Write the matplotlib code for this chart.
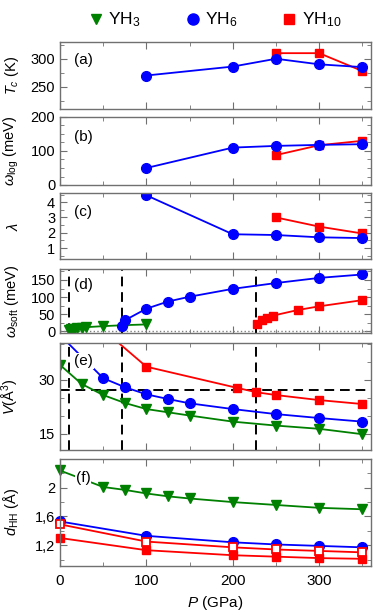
import numpy as np
import matplotlib
matplotlib.use("Agg")
import matplotlib.pyplot as plt
from matplotlib.lines import Line2D
from matplotlib.ticker import MultipleLocator, FixedLocator

plt.rcParams['font.family'] = ['Liberation Sans', 'DejaVu Sans']
plt.rcParams['mathtext.fontset'] = 'custom'
plt.rcParams['mathtext.rm'] = 'Liberation Sans'
plt.rcParams['mathtext.it'] = 'Liberation Sans:italic'

# colours
GREEN = '#008000'
BLUE = '#0000ff'
RED = '#ff0000'
EDGE = '#707070'

# (a) Tc
p_tc_yh6 = [100, 200, 250, 300, 350]
tc_yh6 = [270, 286, 300, 290, 285]
p_tc_yh10 = [250, 300, 350]
tc_yh10 = [310, 310, 278]

# (b) omega_log
p_wl_yh6 = [100, 200, 250, 300, 350]
wl_yh6 = [50, 110, 115, 118, 120]
p_wl_yh10 = [250, 300, 350]
wl_yh10 = [88, 117, 130]

# (c) lambda
p_lam_yh6 = [100, 200, 250, 300, 350]
lam_yh6 = [4.45, 1.9, 1.85, 1.7, 1.65]
p_lam_yh10 = [250, 300, 350]
lam_yh10 = [3.0, 2.4, 1.95]

# (d) omega_soft
p_ws_yh3 = [10, 13, 16, 20, 25, 30, 50, 75, 100]
ws_yh3 = [4, 6, 8, 10, 11, 12, 15, 18, 20]
p_ws_yh6 = [72, 75, 100, 125, 150, 200, 250, 300, 350]
ws_yh6 = [14, 32, 66, 87, 101, 124, 141, 156, 166]
p_ws_yh10 = [228, 234, 240, 247, 275, 300, 350]
ws_yh10 = [20, 32, 40, 46, 62, 73, 91]

# (e) volume
p_v_yh3 = [0, 25, 50, 75, 100, 125, 150, 200, 250, 300, 350]
v_yh3 = [34.2, 28.9, 25.8, 23.6, 21.9, 21.0, 20.1, 18.4, 17.3, 16.4, 14.9]
p_v_yh6 = [0, 50, 75, 100, 125, 150, 200, 250, 300, 350]
v_yh6 = [42.5, 30.5, 28.0, 26.0, 24.7, 23.5, 21.9, 20.5, 19.4, 18.4]
p_v_yh10 = [50, 100, 205, 227, 250, 300, 350]
v_yh10 = [44.0, 33.7, 27.8, 26.6, 25.8, 24.4, 23.3]

# (f) H-H distance
p_d_yh3 = [0, 50, 75, 100, 125, 150, 200, 250, 300, 350]
d_yh3 = [2.24, 2.01, 1.97, 1.92, 1.88, 1.85, 1.80, 1.76, 1.72, 1.70]
p_d = [0, 100, 200, 250, 300, 350]
d_yh6 = [1.53, 1.33, 1.24, 1.21, 1.19, 1.17]
d_yh10_a = [1.49, 1.25, 1.17, 1.14, 1.12, 1.10]
d_yh10_b = [1.30, 1.13, 1.06, 1.04, 1.02, 1.01]

# dashed guide lines
p_trans = [10, 72, 227]
v_ref = 27.2

W, H = 374, 613
fig = plt.figure(figsize=(W / 100, H / 100), dpi=100)

# panel boxes in pixels (top, bottom)
boxes = [(42, 109), (117, 185), (193, 259), (269, 333), (343, 450), (459, 566)]
x0, x1 = 60, 371
axes = []
for t, b in boxes:
    ax = fig.add_axes([x0 / W, 1 - b / H, (x1 - x0) / W, (b - t) / H])
    axes.append(ax)

kw3 = dict(color=GREEN, marker='v', ms=6.5, lw=1.3)
kw6 = dict(color=BLUE, marker='o', ms=7, lw=1.3)
kw10 = dict(color=RED, marker='s', ms=6, lw=1.3)
dash = dict(color='black', ls=(0, (5, 3)), lw=1.4)

ax = axes[0]
ax.plot(p_tc_yh10, tc_yh10, **kw10)
ax.plot(p_tc_yh6, tc_yh6, **kw6)
ax.set_ylim(210, 330)
ax.set_yticks([250, 300])
ax.yaxis.set_minor_locator(MultipleLocator(25))
ax.set_ylabel(r'$T_c$ (K)')

ax = axes[1]
ax.plot(p_wl_yh10, wl_yh10, **kw10)
ax.plot(p_wl_yh6, wl_yh6, **kw6)
ax.set_ylim(0, 200)
ax.set_yticks([0, 100, 200])
ax.yaxis.set_minor_locator(MultipleLocator(25))
ax.set_ylabel(r'$\omega_{\mathrm{log}}$ (meV)')

ax = axes[2]
ax.plot(p_lam_yh10, lam_yh10, **kw10)
ax.plot(p_lam_yh6, lam_yh6, **kw6)
ax.set_ylim(0.28, 4.6)
ax.set_yticks([1, 2, 3, 4])
ax.yaxis.set_minor_locator(MultipleLocator(0.5))
ax.set_ylabel(r'$\lambda$')

ax = axes[3]
ax.axhline(0, color='gray', ls=':', lw=1)
for p in p_trans:
    ax.axvline(p, **dash)
ax.plot(p_ws_yh3, ws_yh3, **kw3)
ax.plot(p_ws_yh6, ws_yh6, **kw6)
ax.plot(p_ws_yh10, ws_yh10, **kw10)
ax.set_ylim(-5, 182)
ax.set_yticks([0, 50, 100, 150])
ax.yaxis.set_minor_locator(MultipleLocator(25))
ax.set_ylabel(r'$\omega_{\mathrm{soft}}$ (meV)')

ax = axes[4]
for p in p_trans:
    ax.axvline(p, **dash)
ax.axhline(v_ref, **dash)
ax.plot(p_v_yh3, v_yh3, **kw3)
ax.plot(p_v_yh6, v_yh6, **kw6)
ax.plot(p_v_yh10, v_yh10, **kw10)
ax.set_ylim(10.5, 40.3)
ax.set_yticks([15, 30])
ax.yaxis.set_minor_locator(MultipleLocator(5))
ax.set_ylabel(r'$V$(Å$^3$)')

ax = axes[5]
ax.plot(p_d_yh3, d_yh3, clip_on=False, **kw3)
ax.plot(p_d, d_yh10_b, clip_on=False, **kw10)
ax.plot(p_d, d_yh6, clip_on=False, **kw6)
ax.plot(p_d, d_yh10_a, color=RED, marker='s', ms=6, lw=1.3, mfc='white',
        mew=1.3, clip_on=False)
ax.set_ylim(0.91, 2.4)
ax.yaxis.set_major_locator(FixedLocator([1.2, 1.6, 2.0]))
ax.set_yticklabels(['1,2', '1,6', '2'])
ax.yaxis.set_minor_locator(FixedLocator([1.0, 1.4, 1.8, 2.2]))
ax.set_ylabel(r'$d_{\mathrm{HH}}$ (Å)')
ax.set_xlabel(r'$P$ (GPa)', fontsize=11)

labels = ['(a)', '(b)', '(c)', '(d)', '(e)', '(f)']
ly = [0.73, 0.70, 0.71, 0.75, 0.83, 0.82]
for ax, lab, y in zip(axes, labels, ly):
    ax.text(0.075, y, lab, transform=ax.transAxes, fontsize=11, ha='center',
            va='center', zorder=5,
            bbox=dict(fc='white', ec='none', pad=0.5))
    ax.set_xlim(0, 360)
    ax.xaxis.set_major_locator(MultipleLocator(100))
    ax.xaxis.set_minor_locator(MultipleLocator(50))
    ax.tick_params(which='both', direction='in', top=True, right=True,
                   color=EDGE, labelsize=10.5)
    ax.tick_params(which='major', length=5)
    ax.tick_params(which='minor', length=3)
    for s in ax.spines.values():
        s.set_color(EDGE)
        s.set_linewidth(1.0)
    ax.yaxis.set_label_coords(-0.125, 0.5)
    ax.yaxis.label.set_size(10.5)
    if ax is not axes[-1]:
        ax.tick_params(labelbottom=False)
axes[-1].tick_params(axis='x', labelsize=11, pad=6)

handles = [Line2D([], [], color=GREEN, marker='v', ls='none', ms=7),
           Line2D([], [], color=BLUE, marker='o', ms=8, ls='none'),
           Line2D([], [], color=RED, marker='s', ms=7, ls='none')]
fig.legend(handles, ['YH$_3$', 'YH$_6$', 'YH$_{10}$'], loc='center',
           bbox_to_anchor=(0.57, 1 - 20 / H), ncol=3, frameon=False,
           fontsize=12.5, handletextpad=0.1, columnspacing=2.4,
           handlelength=1.2)

fig.savefig('out.png', dpi=100)
